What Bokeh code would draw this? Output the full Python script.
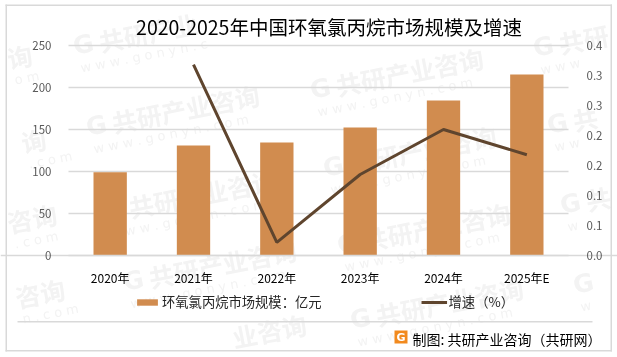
from bokeh.plotting import figure
from bokeh.models import (Range1d, LinearAxis, FixedTicker, Legend, LegendItem, Label, BoxAnnotation)
from bokeh.embed import file_html
from bokeh.resources import INLINE
import math

categories = ["2020年", "2021年", "2022年", "2023年", "2024年", "2025年E"]
market_size = [99, 131, 134.5, 152.5, 184.5, 215.5]
growth = [0.318, 0.022, 0.135, 0.21, 0.168]
left_ticks = [0, 50, 100, 150, 200, 250]
right_ticks = [0, 0.05, 0.10, 0.15, 0.20, 0.25, 0.30, 0.35]
right_labels = ["0.0", "0.1", "0.1", "0.2", "0.2", "0.3", "0.3", "0.4"]
title_text = "2020-2025年中国环氧氯丙烷市场规模及增速"
bar_name = "环氧氯丙烷市场规模：亿元"
line_name = "增速（%）"
footer = "制图: 共研产业咨询（共研网）"

CJK = "Noto Sans CJK SC"
W, H = 617, 357
# plot area inside the picture, in pixels
L, R, T, B = 68, 568, 45, 255
idx = list(range(len(categories)))
n = len(categories)
u = (R - L) / n
x_range = Range1d(-0.5 - L / u, n - 0.5 + (W - R) / u)
y_max = left_ticks[-1]
g_max = right_ticks[-1]
h = B - T
y_range = Range1d(-(H - B) * y_max / h, B * y_max / h)
g_range = Range1d(-(H - B) * g_max / h, B * g_max / h)

p = figure(width=W, height=H, output_backend="svg", toolbar_location=None,
           x_range=x_range, y_range=y_range, min_border=0,
           background_fill_color="white", border_fill_color="white",
           styles={"position": "fixed", "left": "0px", "top": "0px"})
p.outline_line_color = None
p.extra_y_ranges = {"g": g_range}
p.grid.visible = False
p.axis.visible = False
p.renderers = []
p.left = []
p.below = []

GRID = "#D9D9D9"
ax = LinearAxis(fixed_location=-0.5, ticker=FixedTicker(ticks=left_ticks), axis_line_color=None,
                major_tick_line_color=None, minor_tick_line_color=None, major_label_text_font=CJK,
                major_label_text_font_size="11.5px", major_label_text_color="#595959", major_label_standoff=11)
p.add_layout(ax, "left")
rax = LinearAxis(y_range_name="g", fixed_location=n - 0.5, ticker=FixedTicker(ticks=right_ticks),
                 major_label_overrides={t: s for t, s in zip(right_ticks, right_labels)},
                 axis_line_color=None, major_tick_line_color=None, minor_tick_line_color=None,
                 major_label_text_font=CJK, major_label_text_font_size="11.5px",
                 major_label_text_color="#595959", major_label_standoff=12)
p.add_layout(rax, "right")
xa = LinearAxis(fixed_location=0, ticker=FixedTicker(ticks=idx),
                major_label_overrides={i: c for i, c in zip(idx, categories)},
                axis_line_color=GRID, axis_line_width=1.5, major_tick_line_color=None, minor_tick_line_color=None,
                major_label_text_font=CJK, major_label_text_font_size="12px", major_label_text_color="#000000",
                major_label_standoff=7)
p.add_layout(xa, "below")


def canvas_label(x, y, text, **kw):
    p.add_layout(Label(x=x, y=y, x_units="canvas", y_units="canvas", text=text, **kw))


# watermark: x, y, logo?, chinese part, latin part
WM = "#F3F3F3"
wm_cn = "共研产业咨询"
wm_en = "w  w  w  .  g  o  n  y  n  .  c  o  m"
placements = [
    (73, 46, True, "共研产业", "w  w  w  .  g  o  n  y  n  .  c"),
    (86, 127, True, wm_cn, wm_en),
    (7, 58, False, "询", "o m"),
    (21, 142, False, "询", ". c o m"),
    (310, 90, True, wm_cn, wm_en),
    (533, 48, True, "共研", "w  w  w"),
    (323, 168, True, wm_cn, wm_en),
    (547, 125, True, "共", "w  w"),
    (103, 212, True, wm_cn, wm_en),
    (7, 222, False, "咨询", ". c o m"),
    (15, 297, False, "咨询", "n . c o m"),
    (123, 282, True, wm_cn, wm_en),
    (232, 337, False, "业咨询", ""),
    (337, 245, True, wm_cn, wm_en),
    (350, 320, True, wm_cn, wm_en),
    (560, 205, True, "共", "w"),
    (573, 285, True, "", "w"),
]
ang = math.radians(11)
for x0, y0, logo, cn, en in placements:
    ux, uy = math.cos(ang), -math.sin(ang)
    if logo:
        canvas_label(x0, y0, "G", angle=ang, text_font="DejaVu Sans", text_font_size="25px", text_font_style="bold",
                     text_color=WM, text_align="left", text_baseline="middle", level="underlay")
    off = 26 if logo else 0
    if cn:
        canvas_label(x0 + off * ux, y0 + off * uy, cn, angle=ang, text_font=CJK, text_font_size="25px",
                     text_font_style="bold", text_color=WM, text_align="left", text_baseline="middle", level="underlay")
    if en:
        dx, dy = 22 * math.sin(ang), 22 * math.cos(ang)
        canvas_label(x0 + 3 + dx, y0 + dy, en, angle=ang, text_font="DejaVu Sans", text_font_size="13px",
                     text_color=WM, text_align="left", text_baseline="middle", level="underlay")

# gridlines, bars, line
p.segment(x0=[-0.5] * len(left_ticks), x1=[n - 0.5] * len(left_ticks), y0=left_ticks, y1=left_ticks,
          line_color=GRID, line_width=1.5)
bars = p.vbar(x=idx, top=market_size, width=0.4, fill_color="#D18C4F", line_color=None)
line = p.line(x=idx[1:], y=growth, y_range_name="g", line_color="#5F452E", line_width=3)

legend = Legend(items=[LegendItem(label=bar_name, renderers=[bars]), LegendItem(label=line_name, renderers=[line])],
                orientation="horizontal", location=(134, 46), glyph_width=26, glyph_height=8,
                label_standoff=2, spacing=99, padding=0, margin=0, border_line_color=None,
                background_fill_alpha=0, label_text_font=CJK, label_text_font_size="13.3px",
                label_text_color="#262626", label_height=16)
p.add_layout(legend, "center")

# title, frame of the picture and footer
canvas_label(328.5, 26, title_text, text_font=CJK, text_font_size="19.5px", text_color="#000000",
             text_align="center", text_baseline="middle")
box_units = dict(left_units="canvas", right_units="canvas", top_units="canvas", bottom_units="canvas")
for l_, r_, t_, b_ in [(5, 6.5, 4, 351), (610, 611.5, 4, 351), (5, 611.5, 4, 5.5), (5, 611.5, 349.5, 351),
                       (17, 592, 320.5, 322)]:
    p.add_layout(BoxAnnotation(left=l_, right=r_, top=t_, bottom=b_, fill_color=GRID, fill_alpha=1,
                               line_color=None, **box_units))
p.add_layout(BoxAnnotation(left=394, right=407, top=330, bottom=343, fill_color="#F28A1E", fill_alpha=1,
                           line_color=None, **box_units))
canvas_label(400.5, 336.5, "G", text_font="DejaVu Sans", text_font_size="11px", text_font_style="bold",
             text_color="white", text_align="center", text_baseline="middle")
canvas_label(412, 338, footer, text_font=CJK, text_font_size="14px", text_color="#000000",
             text_align="left", text_baseline="middle")

open("out.html", "w").write(file_html(p, INLINE))
